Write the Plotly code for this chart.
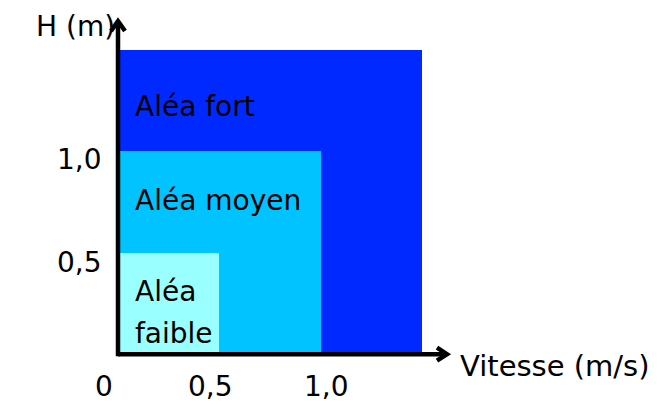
import plotly.graph_objects as go

# ---- data ----
zones = ["Aléa fort", "Aléa moyen", "Aléa faible"]
vitesse_max = [1.5, 1.0, 0.5]      # m/s, right edge of each zone
hauteur_max = [1.5, 1.0, 0.5]      # m, top edge of each zone
zone_colors = ["#0029FF", "#00C3FF", "#99FFFF"]

x_tick_vals = [0, 0.5, 1.0]
x_tick_text = ["0", "0,5", "1,0"]
y_tick_vals = [0.5, 1.0]
y_tick_text = ["0,5", "1,0"]

x_title = "Vitesse (m/s)"
y_title = "H (m)"

# ---- geometry / style ----
W, H = 667, 406
SX, SY = 202.7, 203.0          # px per unit
X0_PX, Y0_PX = 118.0, 354.2    # origin in pixels (from top-left)
x_min = -X0_PX / SX
x_max = x_min + W / SX
y_min = -(H - Y0_PX) / SY
y_max = y_min + H / SY

axis_end_x = 1.623
axis_end_y = 1.641

FONT = "DejaVu Sans"
FS = 28

fig = go.Figure()

# zones as overlaid bars anchored at 0
for name, vx, hy, col in zip(zones, vitesse_max, hauteur_max, zone_colors):
    fig.add_trace(go.Bar(
        x=[vx / 2], y=[hy], width=[vx], base=0,
        marker=dict(color=col, line=dict(width=0)),
        name=name, hoverinfo="skip", showlegend=False,
    ))

# axes with open arrow heads
hx_back, hx_half = 10 / SX, 6.5 / SY
hy_back, hy_half = 10 / SY, 7 / SX
ax_x = [0, axis_end_x, None,
        axis_end_x - hx_back, axis_end_x, axis_end_x - hx_back, None,
        0, 0, None,
        -hy_half, 0, hy_half]
ax_y = [0, 0, None,
        hx_half, 0, -hx_half, None,
        -2 / SY, axis_end_y, None,
        axis_end_y - hy_back, axis_end_y, axis_end_y - hy_back]
fig.add_trace(go.Scatter(
    x=ax_x, y=ax_y, mode="lines",
    line=dict(color="black", width=4.5),
    hoverinfo="skip", showlegend=False, cliponaxis=False,
))

annotations = []
tf = dict(family=FONT, size=FS, color="black")

# x tick labels
x_shifts = [-14, -9, 6]
for v, t, dx in zip(x_tick_vals, x_tick_text, x_shifts):
    annotations.append(dict(x=v, y=0, xref="x", yref="y", text=t, showarrow=False,
                            xanchor="center", yanchor="middle", xshift=dx, yshift=-32,
                            font=tf))
# y tick labels
y_shifts = [-10, -8]
for v, t, dy in zip(y_tick_vals, y_tick_text, y_shifts):
    annotations.append(dict(x=0, y=v, xref="x", yref="y", text=t, showarrow=False,
                            xanchor="right", yanchor="middle", xshift=-14, yshift=dy,
                            font=tf))

# zone labels
annotations.append(dict(x=0, y=(vitesse_max[0] + vitesse_max[1]) / 2, xref="x", yref="y",
                        text=zones[0], showarrow=False, xanchor="left", yanchor="middle",
                        xshift=15, yshift=-6, font=tf))
annotations.append(dict(x=0, y=(vitesse_max[1] + vitesse_max[2]) / 2, xref="x", yref="y",
                        text=zones[1], showarrow=False, xanchor="left", yanchor="middle",
                        xshift=15, yshift=1, font=tf))
faible_words = zones[2].split(" ")
annotations.append(dict(x=0, y=vitesse_max[2] / 2, xref="x", yref="y",
                        text=faible_words[0], showarrow=False, xanchor="left", yanchor="middle",
                        xshift=15, yshift=12, font=tf))
annotations.append(dict(x=0, y=vitesse_max[2] / 2, xref="x", yref="y",
                        text=faible_words[1], showarrow=False, xanchor="left", yanchor="middle",
                        xshift=15, yshift=-30, font=tf))

# axis titles
annotations.append(dict(x=34 / W, y=1 - 27 / H, xref="paper", yref="paper", text=y_title,
                        showarrow=False, xanchor="left", yanchor="middle", font=tf))
annotations.append(dict(x=458 / W, y=1 - 366 / H, xref="paper", yref="paper", text=x_title,
                        showarrow=False, xanchor="left", yanchor="middle",
                        font=dict(family=FONT, size=29, color="black")))

fig.update_layout(
    width=W, height=H,
    margin=dict(l=0, r=0, t=0, b=0),
    paper_bgcolor="white", plot_bgcolor="white",
    barmode="overlay", bargap=0,
    xaxis=dict(range=[x_min, x_max], visible=False, fixedrange=True),
    yaxis=dict(range=[y_min, y_max], visible=False, fixedrange=True),
    annotations=annotations,
    showlegend=False,
)

fig.write_html(
    "out.html",
    config={"displayModeBar": False},
    post_script="document.body.style.margin='0';document.body.style.overflow='hidden';",
)
